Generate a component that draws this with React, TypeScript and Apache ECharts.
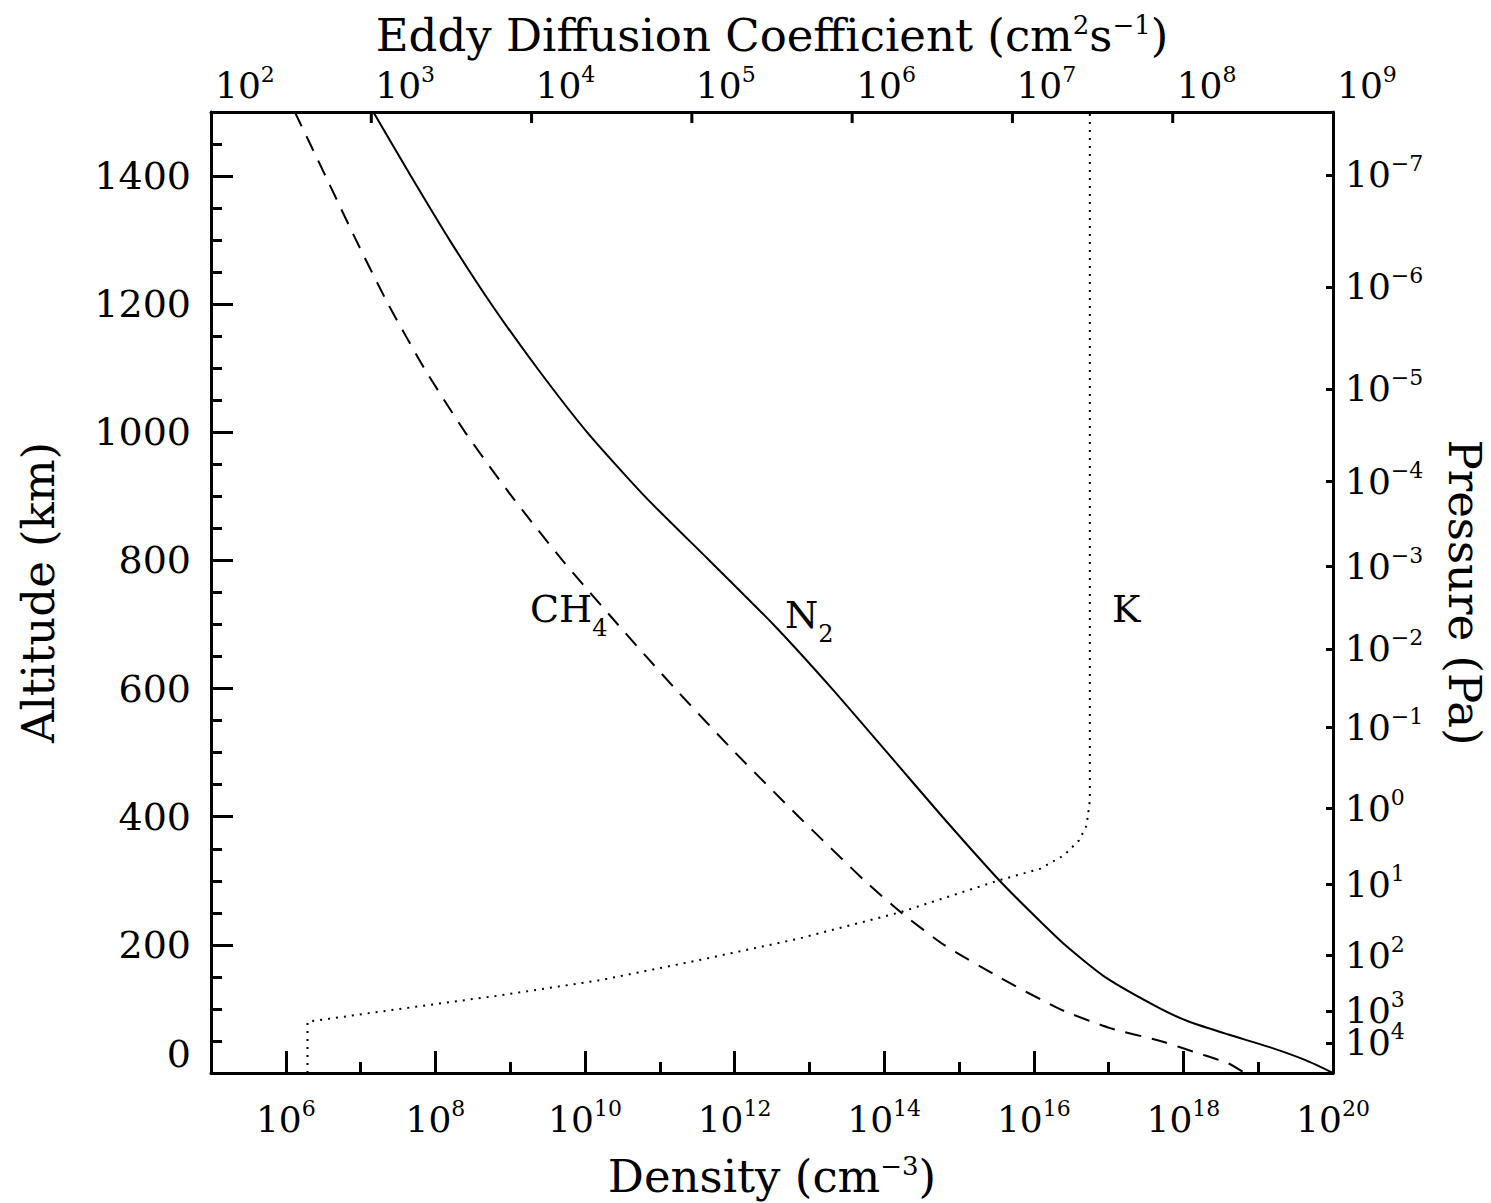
import React, { useEffect, useRef } from 'react';
import * as echarts from 'echarts';

const FONT = 'DejaVu Serif';

// N2 number density profile (cm^-3) vs altitude (km)
const n2AltitudeKm = [1500, 1400, 1300, 1200, 1100, 1000, 900, 800, 700, 600, 500, 400, 300, 250, 200, 150, 100, 80, 60, 40, 20, 0];
const n2DensityCm3 = [1.48e7, 4.7e7, 1.55e8, 5.6e8, 2.3e9, 1.07e10, 6.3e10, 4.6e11, 3.3e12, 2.0e13, 1.1e14, 6.0e14, 3.5e15, 9.3e15, 2.6e16, 8.9e16, 5.0e17, 1.2e18, 4.0e18, 1.45e19, 4.3e19, 1.0e20];

// CH4 number density profile (cm^-3) vs altitude (km)
const ch4AltitudeKm = [1500, 1400, 1300, 1200, 1100, 1000, 900, 800, 700, 600, 500, 400, 300, 250, 200, 150, 100, 70, 50, 30, 15, 0];
const ch4DensityCm3 = [1.32e6, 3.4e6, 8.7e6, 2.34e7, 7.1e7, 2.5e8, 1.05e9, 5.0e9, 2.75e10, 1.6e11, 1.02e12, 7.2e12, 5.5e13, 1.7e14, 6.3e14, 3.4e15, 2.2e16, 1.05e17, 4.9e17, 1.66e18, 4.0e18, 6.6e18];

// Eddy diffusion coefficient K (cm^2 s^-1) vs altitude (km)
const kAltitudeKm = [0, 80, 100, 121, 145, 176, 210, 251, 301, 319, 340, 363, 386, 425, 1500];
const kEddyCm2s = [400, 400, 1500, 6300, 2.7e4, 1.1e5, 4.7e5, 2.0e6, 8.3e6, 1.5e7, 2.1e7, 2.6e7, 2.9e7, 3.04e7, 3.04e7];

// Axis ticks
const altitudeMajorTicks = [0, 200, 400, 600, 800, 1000, 1200, 1400];
const altitudeMinorTicks = [50, 100, 150, 250, 300, 350, 450, 500, 550, 650, 700, 750, 850, 900, 950, 1050, 1100, 1150, 1250, 1300, 1350, 1450];
const densityLabelExp = [6, 8, 10, 12, 14, 16, 18, 20];
const densityMinorExp = [7, 9, 11, 13, 15, 17, 19];
const eddyLabelExp = [2, 3, 4, 5, 6, 7, 8, 9];
const eddyTickExp = [3, 4, 5, 6, 7, 8];
const pressureExp = [-7, -6, -5, -4, -3, -2, -1, 0, 1, 2, 3, 4];
const pressureAltitudeKm = [1402, 1227, 1068, 924, 791, 662, 539, 413, 294, 184, 97, 47];
const topAltitudeKm = 1500;

const fmtExp = (e: number) => (e < 0 ? '\u2212' + Math.abs(e) : String(e));

const supRich = {
  b: { fontFamily: FONT, fontSize: 36, color: '#000', lineHeight: 44 },
  s: { fontFamily: FONT, fontSize: 22, color: '#000', lineHeight: 22, verticalAlign: 'top' },
};

const titleRich = {
  s: { fontFamily: FONT, fontSize: 26, color: '#000', lineHeight: 26, verticalAlign: 'top' },
};

const subRich = {
  b: { fontFamily: FONT, fontSize: 38, color: '#000', lineHeight: 50, verticalAlign: 'top' },
  s: { fontFamily: FONT, fontSize: 24, color: '#000', lineHeight: 24, verticalAlign: 'bottom' },
};

const black = '#000';

const pressureLabel = (v: number) => {
  let best = 0;
  pressureAltitudeKm.forEach((a, i) => {
    if (Math.abs(a - v) < Math.abs(pressureAltitudeKm[best] - v)) best = i;
  });
  return `{b|10}{s|${fmtExp(pressureExp[best])}}`;
};

export default function App() {
  const ref = useRef<HTMLDivElement>(null);

  useEffect(() => {
    document.body.style.margin = '0';
    const chart = echarts.init(ref.current as HTMLDivElement, null, { renderer: 'svg' });

    const lineAxis = { show: true, onZero: false, lineStyle: { color: black, width: 3 } };
    const noLine = { show: false, onZero: false };
    const nameStyle = { fontFamily: FONT, fontSize: 45, color: black, lineHeight: 46, rich: titleRich };
    const tickStyle = { color: black, width: 3 };

    const evenPressure = pressureAltitudeKm.filter((_, i) => i % 2 === 0);
    const oddPressure = pressureAltitudeKm.filter((_, i) => i % 2 === 1);

    const option: any = {
      animation: false,
      backgroundColor: '#fff',
      grid: { left: 211, top: 112, width: 1122, height: 961, containLabel: false, outerBoundsMode: 'none' },
      xAxis: [
        {
          type: 'value', position: 'bottom', min: 5, max: 20,
          axisLine: lineAxis,
          axisTick: { show: true, inside: true, length: 22, customValues: densityLabelExp, lineStyle: tickStyle },
          axisLabel: {
            show: true, customValues: densityLabelExp, margin: 24, rich: supRich, showMinLabel: true, showMaxLabel: true, hideOverlap: false,
            formatter: (v: number) => `{b|10}{s|${fmtExp(Math.round(v))}}`,
          },
          splitLine: { show: false },
          name: 'Density (cm{s|\u22123})', nameLocation: 'middle', nameGap: 80, nameTextStyle: nameStyle,
        },
        {
          type: 'value', position: 'bottom', min: 5, max: 20,
          axisLine: noLine,
          axisTick: { show: true, inside: true, length: 11, customValues: densityMinorExp, lineStyle: tickStyle },
          axisLabel: { show: false },
          splitLine: { show: false },
        },
        {
          type: 'value', position: 'top', min: 2, max: 9,
          axisLine: lineAxis,
          axisTick: { show: false },
          axisLabel: {
            show: true, customValues: eddyLabelExp, margin: 5, align: 'left', padding: [0, 0, 0, 4], rich: supRich,
            showMinLabel: true, showMaxLabel: true, hideOverlap: false,
            formatter: (v: number) => `{b|10}{s|${fmtExp(Math.round(v))}}`,
          },
          splitLine: { show: false },
          name: 'Eddy Diffusion Coefficient (cm{s|2}s{s|\u22121})', nameLocation: 'middle', nameGap: 52, nameTextStyle: nameStyle,
        },
      ],
      yAxis: [
        {
          type: 'value', position: 'left', min: 0, max: 1500,
          axisLine: lineAxis,
          axisTick: { show: true, inside: true, length: 22, customValues: altitudeMajorTicks, lineStyle: tickStyle },
          axisLabel: {
            show: true, customValues: altitudeMajorTicks, margin: 20, verticalAlignMinLabel: 'bottom',
            showMinLabel: true, showMaxLabel: true, hideOverlap: false,
            fontFamily: FONT, fontSize: 38, color: black,
            formatter: (v: number) => String(Math.round(v)),
          },
          splitLine: { show: false },
          name: 'Altitude (km)', nameLocation: 'middle', nameRotate: 90, nameGap: 150, nameTextStyle: nameStyle,
        },
        {
          type: 'value', position: 'left', min: 0, max: 1500,
          axisLine: noLine,
          axisTick: { show: true, inside: true, length: 11, customValues: altitudeMinorTicks, lineStyle: tickStyle },
          axisLabel: { show: false },
          splitLine: { show: false },
        },
        {
          type: 'value', position: 'right', min: 0, max: 1500,
          axisLine: lineAxis,
          axisTick: { show: true, inside: true, length: 7, customValues: pressureAltitudeKm, lineStyle: tickStyle },
          axisLabel: {
            show: true, customValues: evenPressure, margin: 12, rich: supRich,
            showMinLabel: true, showMaxLabel: true, hideOverlap: false,
            formatter: pressureLabel,
          },
          splitLine: { show: false },
          name: 'Pressure (Pa)', nameLocation: 'middle', nameRotate: -90, nameGap: 108, nameTextStyle: nameStyle,
        },
        {
          type: 'value', position: 'right', min: 0, max: 1500,
          axisLine: noLine,
          axisTick: { show: false },
          axisLabel: {
            show: true, customValues: oddPressure, margin: 12, rich: supRich,
            showMinLabel: true, showMaxLabel: true, hideOverlap: false,
            formatter: pressureLabel,
          },
          splitLine: { show: false },
        },
      ],
      series: [
        {
          name: 'N2', type: 'line', xAxisIndex: 0, yAxisIndex: 0,
          data: n2DensityCm3.map((d, i) => [Math.log10(d), n2AltitudeKm[i]]),
          showSymbol: false, symbol: 'none', smooth: 0.2,
          lineStyle: { color: black, width: 2 },
        },
        {
          name: 'CH4', type: 'line', xAxisIndex: 0, yAxisIndex: 0,
          data: ch4DensityCm3.map((d, i) => [Math.log10(d), ch4AltitudeKm[i]]),
          showSymbol: false, symbol: 'none', smooth: 0.2,
          lineStyle: { color: black, width: 2, type: [16, 11] },
        },
        {
          name: 'K', type: 'line', xAxisIndex: 2, yAxisIndex: 0,
          data: kEddyCm2s.map((k, i) => [Math.log10(k), kAltitudeKm[i]]),
          showSymbol: false, symbol: 'none',
          lineStyle: { color: black, width: 2, type: [2, 6] },
        },
        {
          name: 'topTicks', type: 'custom', xAxisIndex: 2, yAxisIndex: 0,
          data: eddyTickExp.map((e) => [e, topAltitudeKm]),
          silent: true, clip: false, z: 10,
          renderItem: (_params: any, api: any) => {
            const p = api.coord([api.value(0), api.value(1)]);
            return {
              type: 'line',
              shape: { x1: p[0], y1: p[1], x2: p[0], y2: p[1] + 11 },
              style: { stroke: black, lineWidth: 3 },
            };
          },
        },
      ],
      graphic: [
        { type: 'text', left: 530, top: 590, style: { text: '{b|CH}{s|4}', rich: subRich } },
        { type: 'text', left: 785, top: 596, style: { text: '{b|N}{s|2}', rich: subRich } },
        { type: 'text', left: 1112, top: 590, style: { text: '{b|K}', rich: subRich } },
      ],
    };

    chart.setOption(option);
    return () => chart.dispose();
  }, []);

  return <div ref={ref} style={{ width: 1491, height: 1203 }} />;
}
